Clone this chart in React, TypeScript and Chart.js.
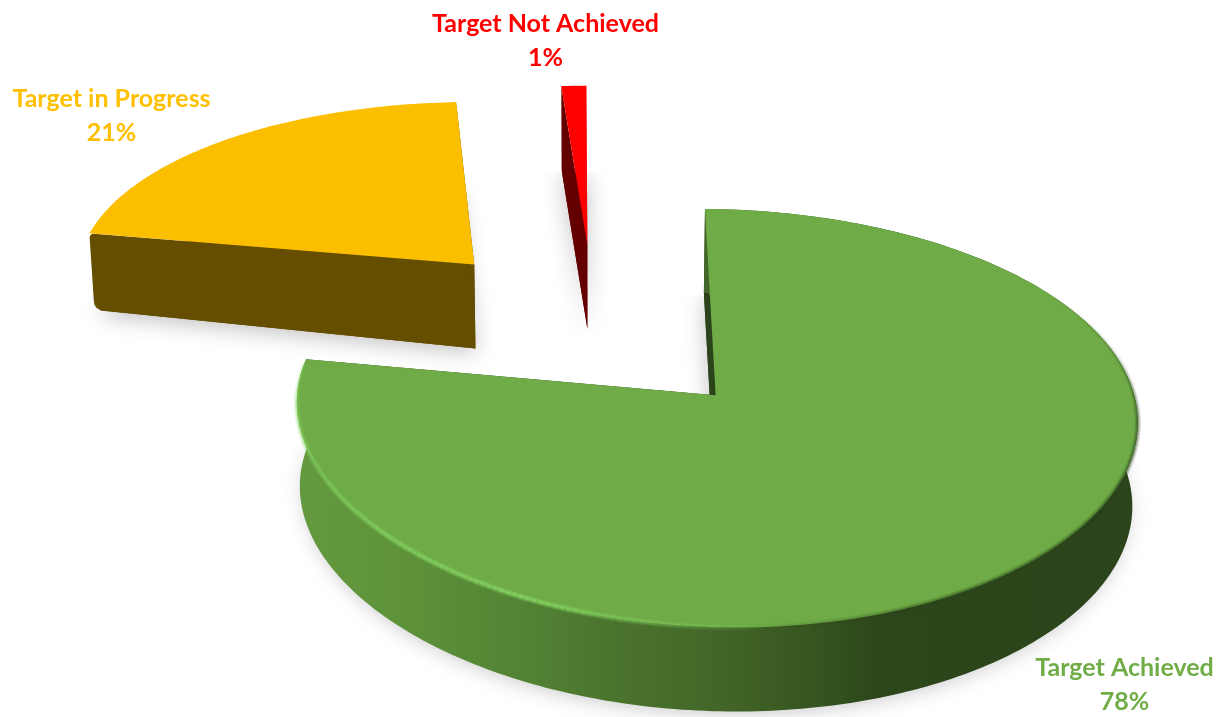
import React, { useEffect, useRef } from "react";
import { Chart, registerables } from "chart.js";

Chart.register(...registerables);

const categories = ["Target Achieved", "Target in Progress", "Target Not Achieved"];
const values = [77.5, 21.4, 1.1];
const topColors = ["#6FAC47", "#FBBF00", "#FF0000"];
const wallColors = ["#2B431A", "#664E00", "#640000"];
const labelColors = ["#70AD47", "#FFC000", "#FF0000"];
const labelPositions = [
  { x: 1124.5, y: 676 },
  { x: 111.5, y: 107 },
  { x: 545.5, y: 32 },
];

const VIEW = { dx: -20, dy: -32, f: 407, s: 10, g: 192, k: 0.1058, kx: 0.08, depth: 84, taper: 20, lean: 0.01 };

type Pt = { x: number; y: number };

function makeProjector(arc: any) {
  const { x: cx, y: cy, startAngle, endAngle, outerRadius } = arc.getProps(
    ["x", "y", "startAngle", "endAngle", "outerRadius"],
    true
  );
  const mid = (startAngle + endAngle) / 2;
  const e = arc.options.offset / outerRadius;
  const ox = Math.cos(mid) * e;
  const oy = Math.sin(mid) * e;
  const at = (a: number, r: number, z: number): Pt => {
    const c = Math.cos(a) * r;
    const sn = Math.sin(a) * r;
    const X = ox + c;
    const Y = oy + sn;
    const u = (VIEW.f * X + VIEW.s * Y) / (1 - VIEW.kx * Y);
    return {
      x: cx + VIEW.dx + u * (1 - z * VIEW.lean),
      y:
        cy +
        VIEW.dy +
        (VIEW.g * Y) / (1 - VIEW.k * Y) +
        z * (VIEW.depth - VIEW.taper * Math.max(0, -X - 0.9)),
    };
  };
  return { at, startAngle, endAngle };
}

function rimPoints(p: any, a0: number, a1: number, z: number, r = 1): Pt[] {
  const n = Math.max(2, Math.ceil(Math.abs(a1 - a0) * 60));
  const pts: Pt[] = [];
  for (let i = 0; i <= n; i++) pts.push(p.at(a0 + ((a1 - a0) * i) / n, r, z));
  return pts;
}

function fillPoly(ctx: CanvasRenderingContext2D, pts: Pt[], style: any) {
  ctx.beginPath();
  pts.forEach((q, i) => (i ? ctx.lineTo(q.x, q.y) : ctx.moveTo(q.x, q.y)));
  ctx.closePath();
  ctx.fillStyle = style;
  ctx.fill();
}

// polygon whose corners listed in radii are rounded
function fillRounded(ctx: CanvasRenderingContext2D, pts: Pt[], radii: number[], style: any) {
  const n = pts.length;
  ctx.beginPath();
  const start = { x: (pts[0].x + pts[n - 1].x) / 2, y: (pts[0].y + pts[n - 1].y) / 2 };
  ctx.moveTo(start.x, start.y);
  for (let i = 0; i < n; i++) {
    const q = pts[i];
    const nx = pts[(i + 1) % n];
    ctx.arcTo(q.x, q.y, nx.x, nx.y, radii[i]);
  }
  ctx.closePath();
  ctx.fillStyle = style;
  ctx.fill();
}

function fadeRim(
  ctx: CanvasRenderingContext2D,
  p: any,
  a0: number,
  a1: number,
  rgb: string,
  alpha: (t: number) => number,
  width: (t: number) => number,
  blur: number
) {
  const pts = rimPoints(p, a0, a1, 0);
  ctx.save();
  ctx.filter = `blur(${blur}px)`;
  ctx.lineCap = "butt";
  const n = pts.length - 1;
  for (let i = 0; i < n; i++) {
    const t = i / n;
    ctx.beginPath();
    ctx.moveTo(pts[i].x, pts[i].y);
    ctx.lineTo(pts[i + 1].x, pts[i + 1].y);
    ctx.strokeStyle = `rgba(${rgb},${alpha(t)})`;
    ctx.lineWidth = width(t);
    ctx.stroke();
  }
  ctx.restore();
}

const pie3d = {
  id: "pie3d",
  beforeDatasetsDraw(chart: any) {
    const ctx: CanvasRenderingContext2D = chart.ctx;
    const arcs = chart.getDatasetMeta(0).data;
    const order = [1, 2, 0];
    for (const i of order) {
      const p = makeProjector(arcs[i]);
      const { startAngle: a0, endAngle: a1 } = p;
      const center0 = p.at(0, 0, 0);
      const center1 = p.at(0, 0, 1);
      const rimTop = rimPoints(p, a0, a1, 0);
      const rimBottom = rimPoints(p, a0, a1, 1);
      const bottomFace = [center1, ...rimPoints(p, a0, a1, 1, 0.985)];

      // soft cast shadow of the bottom face only
      ctx.save();
      const minY = Math.min(...bottomFace.map((q) => q.y));
      ctx.beginPath();
      ctx.rect(0, minY, chart.width, chart.height);
      ctx.clip();
      ctx.shadowColor = "rgba(0,0,0,0.25)";
      ctx.shadowBlur = 22;
      ctx.shadowOffsetX = 0;
      ctx.shadowOffsetY = 4;
      fillPoly(ctx, bottomFace, wallColors[i]);
      ctx.restore();

      // radial cut walls
      const startWall = [center0, rimTop[0], rimBottom[0], center1];
      if (i === 1) fillRounded(ctx, startWall, [0, 4, 9, 0], wallColors[i]);
      else fillPoly(ctx, startWall, wallColors[i]);
      fillPoly(
        ctx,
        [center0, rimTop[rimTop.length - 1], rimBottom[rimBottom.length - 1], center1],
        wallColors[i]
      );

      // outer wall of the large slice, shaded from lit left to dark right
      if (i === 0) {
        const wall = ctx.createLinearGradient(295, 0, 1140, 0);
        wall.addColorStop(0, "#63993F");
        wall.addColorStop(0.12, "#5E933A");
        wall.addColorStop(0.25, "#548535");
        wall.addColorStop(0.38, "#4A732D");
        wall.addColorStop(0.5, "#426628");
        wall.addColorStop(0.62, "#35541F");
        wall.addColorStop(0.7, "#2C451A");
        wall.addColorStop(1, "#2C441B");
        fillPoly(ctx, [...rimTop, ...rimBottom.slice().reverse()], wall);
      }

      // top face
      fillPoly(ctx, [center0, ...rimTop], topColors[i]);

      if (i === 0) {
        // bevel highlight along the lit front-left rim
        fadeRim(
          ctx,
          p,
          a1 - 0.02,
          Math.PI * 0.47,
          "134,212,98",
          (t) => (t < 0.1 ? 0.35 + t * 4 : t < 0.7 ? 0.75 + (0.25 * (t - 0.1)) / 0.6 : Math.max(0, (1 - t) / 0.3)),
          (t) => 2.5 + 1.5 * Math.min(1, t * 2),
          0.8
        );
        // bevel shade along the dark front-right rim
        fadeRim(
          ctx,
          p,
          Math.PI * 0.5,
          -Math.PI * 0.16,
          "44,68,27",
          (t) => (t < 0.25 ? (t / 0.25) * 0.7 : t < 0.7 ? 0.7 : Math.max(0.08, 0.7 * ((1 - t) / 0.3))),
          (t) => (t < 0.7 ? 3.5 : 3.5 - ((t - 0.7) / 0.3) * 2.3),
          1
        );
      }
    }

    // data labels
    const total = values.reduce((a, b) => a + b, 0);
    ctx.save();
    ctx.font = 'bold 25px Lato, "Open Sans", sans-serif';
    ctx.textAlign = "center";
    ctx.textBaseline = "alphabetic";
    categories.forEach((name, i) => {
      ctx.fillStyle = labelColors[i];
      ctx.fillText(name, labelPositions[i].x, labelPositions[i].y);
      ctx.fillText(
        `${Math.round((values[i] / total) * 100)}%`,
        labelPositions[i].x,
        labelPositions[i].y + 34
      );
    });
    ctx.restore();
    return false;
  },
};

export default function App() {
  const ref = useRef<HTMLCanvasElement>(null);
  useEffect(() => {
    const chart = new Chart(ref.current as HTMLCanvasElement, {
      type: "pie",
      data: {
        labels: categories,
        datasets: [
          {
            data: values,
            backgroundColor: topColors,
            borderWidth: 0,
            offset: 130.6,
          },
        ],
      },
      options: {
        responsive: false,
        animation: false,
        rotation: 1.2,
        layout: { padding: 0 },
        plugins: { legend: { display: false }, tooltip: { enabled: false } },
      },
      plugins: [pie3d],
    } as any);
    return () => chart.destroy();
  }, []);
  return (
    <div style={{ position: "absolute", left: 0, top: 0, width: 1228, height: 717, background: "#fff" }}>
      <canvas ref={ref} width={1228} height={717} style={{ display: "block" }} />
    </div>
  );
}
